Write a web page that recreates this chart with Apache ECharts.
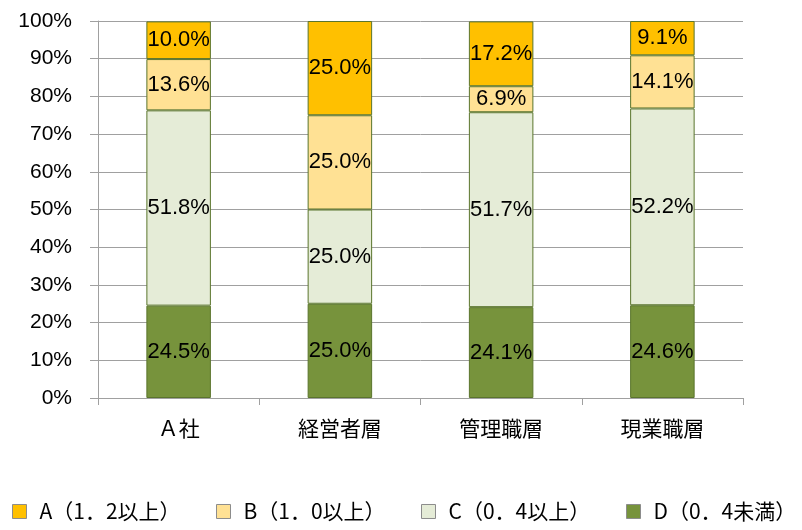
<!DOCTYPE html>
<html>
<head>
<meta charset="utf-8">
<script src="https://cdn.jsdelivr.net/npm/echarts@6/dist/echarts.min.js"></script>
<style>
  html, body { margin: 0; padding: 0; background: #fff; }
  #chart { width: 802px; height: 530px; }
</style>
</head>
<body>
<div id="chart"></div>
<script>
// カテゴリと各区分の割合
var categories = ['Ａ社', '経営者層', '管理職層', '現業職層'];
var seriesNames = ['A（1．2以上）', 'B（1．0以上）', 'C（0．4以上）', 'D（0．4未満）'];
var valA = [10.0, 25.0, 17.2, 9.1];
var valB = [13.6, 25.0, 6.9, 14.1];
var valC = [51.8, 25.0, 51.7, 52.2];
var valD = [24.5, 25.0, 24.1, 24.6];
var colors = ['#FFC000', '#FFE194', '#E5ECD7', '#77933C'];
var legendLefts = [12, 216, 421, 626];

var myChart = echarts.init(document.getElementById('chart'));

function makeSeries(name, data, color) {
    return {
        name: name,
        type: 'bar',
        stack: 'total',
        barWidth: '40%',
        data: data,
        itemStyle: { color: color, borderColor: '#5A752C', borderWidth: 1 },
        label: {
            show: true,
            position: 'inside',
            color: '#000',
            fontFamily: 'Liberation Sans',
            fontSize: 22,
            formatter: function (p) { return p.value.toFixed(1) + '%'; }
        }
    };
}

// 凡例は位置を揃えるため個別に置く
var legends = [];
for (var i = 0; i < seriesNames.length; i++) {
    legends.push({
        data: [seriesNames[i]],
        left: legendLefts[i],
        top: 501,
        padding: 0,
        icon: 'rect',
        itemWidth: 14,
        itemHeight: 14,
        itemStyle: { borderColor: '#8C8C8C', borderWidth: 1 },
        textStyle: { fontFamily: 'Noto Sans CJK JP', fontSize: 21, color: '#000', padding: [0, 0, 0, 8] }
    });
}

myChart.setOption({
    animation: false,
    legend: legends,
    grid: { left: 98, right: 59, top: 21, bottom: 132 },
    xAxis: {
        type: 'category',
        data: categories,
        axisLine: { lineStyle: { color: '#A0A0A0' } },
        axisTick: { show: true, length: 7, lineStyle: { color: '#A0A0A0' } },
        axisLabel: { color: '#000', fontFamily: 'Noto Sans CJK JP', fontSize: 21, margin: 20 }
    },
    yAxis: {
        type: 'value',
        min: 0,
        max: 100,
        interval: 10,
        axisLine: { show: true, lineStyle: { color: '#A0A0A0' } },
        axisTick: { show: true, length: 8, lineStyle: { color: '#A0A0A0' } },
        splitLine: { lineStyle: { color: '#A0A0A0' } },
        axisLabel: { color: '#000', fontFamily: 'Liberation Sans', fontSize: 21, margin: 26, formatter: '{value}%' }
    },
    series: [
        makeSeries(seriesNames[3], valD, colors[3]),
        makeSeries(seriesNames[2], valC, colors[2]),
        makeSeries(seriesNames[1], valB, colors[1]),
        makeSeries(seriesNames[0], valA, colors[0])
    ]
});
</script>
</body>
</html>
